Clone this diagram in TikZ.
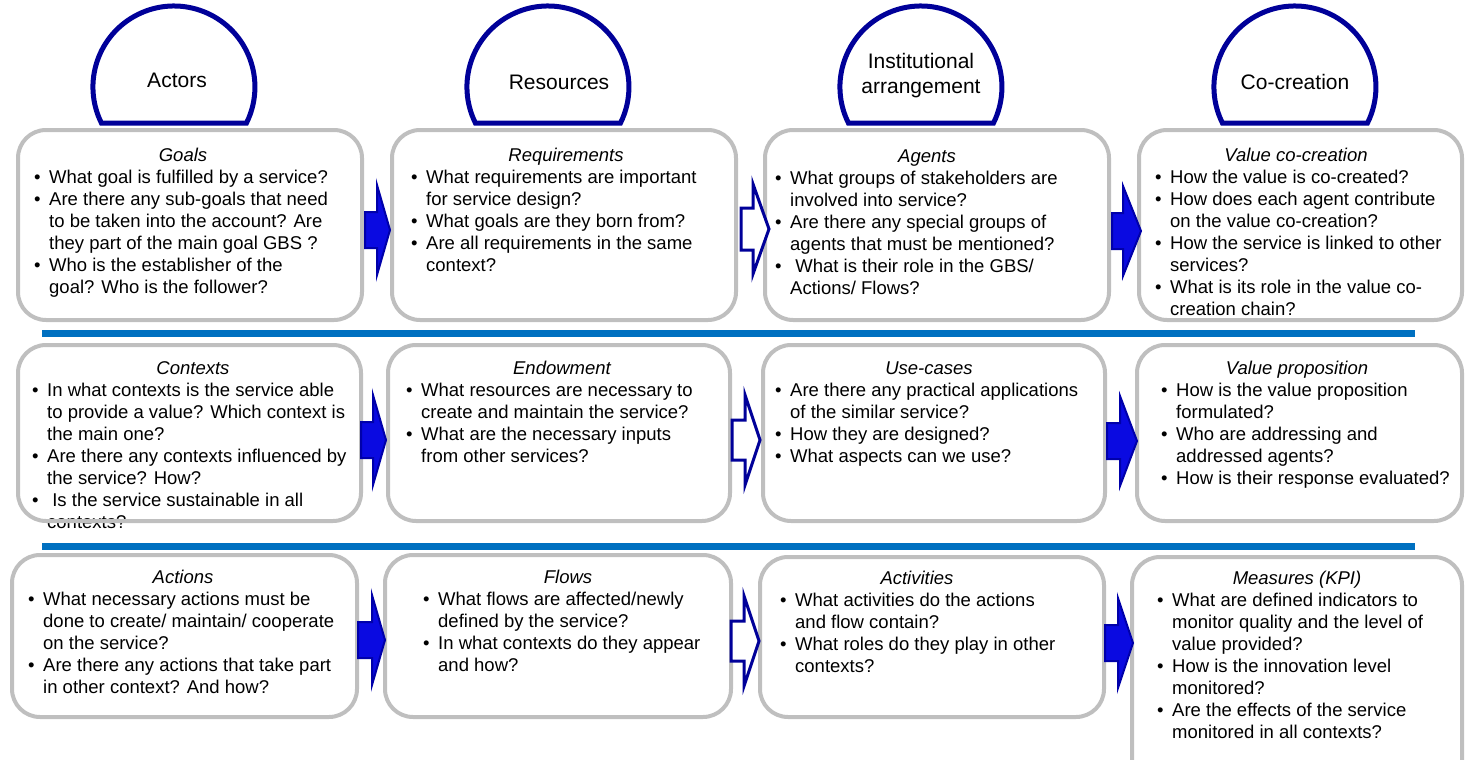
\documentclass[tikz,border=0pt]{standalone}
\usepackage{fontspec}
\setmainfont{Liberation Sans}
\usetikzlibrary{fit}
\definecolor{boxgray}{RGB}{191,191,191}
\definecolor{sepblue}{RGB}{0,112,192}
\definecolor{navy}{RGB}{0,0,153}
\definecolor{arrfill}{RGB}{10,10,225}
\definecolor{arrdraw}{RGB}{0,0,170}
\newcommand{\bu}{\strut\makebox[15pt][l]{•}}
\newcommand{\nb}{\strut\hspace*{15pt}}
\newcommand{\blarrow}[7]{%
  \draw[#1] (#2,#5-#6) -- (#3,#5-#6) -- (#3,#5-#7) -- (#4,#5) -- (#3,#5+#7) -- (#3,#5+#6) -- (#2,#5+#6) -- cycle;}
\newcommand{\hdrarc}[2]{%
  \draw[hdr] ({#1-72.6},#2) arc[start angle=153.6, end angle=386.4, radius=81] -- cycle;}
\begin{document}
\begin{tikzpicture}[x=1pt,y=-1pt,
  box/.style={draw=boxgray, line width=4pt, rounded corners=28pt, inner sep=0pt},
  txt/.style={anchor=north west, inner sep=0pt, align=left, font=\fontsize{18.5}{22}\selectfont},
  ttl/.style={anchor=base, inner sep=0pt, font=\fontsize{18.5}{22}\selectfont\itshape},
  hlbl/.style={inner sep=0pt, align=center, font=\fontsize{21}{25}\selectfont},
  hdr/.style={draw=navy, line width=5pt, fill=white},
  sepline/.style={draw=sepblue, line width=7pt},
  fullarr/.style={draw=arrdraw, fill=arrfill, line width=2pt, line join=miter},
  openarr/.style={draw=navy, fill=white, line width=3pt, line join=miter}
]
\useasboundingbox (0,0) rectangle (1465,760);

% ---------- texts ----------
\node[ttl] (tGoals) at (183,161) {Goals};
\node[txt] (bGoals) at (34,167.6) {\bu What goal is fulfilled by a service?\\
\bu Are there any sub-goals that need\\
\nb to be taken into the account? Are\\
\nb they part of the main goal GBS ?\\
\bu Who is the establisher of the\\
\nb goal? Who is the follower?};

\node[ttl] (tReq) at (566,161) {Requirements};
\node[txt] (bReq) at (411,167.6) {\bu What requirements are important\\
\nb for service design?\\
\bu What goals are they born from?\\
\bu Are all requirements in the same\\
\nb context?};

\node[ttl] (tAgents) at (927,162) {Agents};
\node[txt] (bAgents) at (775,168.6) {\bu What groups of stakeholders are\\
\nb involved into service?\\
\bu Are there any special groups of\\
\nb agents that must be mentioned?\\
\bu\ What is their role in the GBS/\\
\nb Actions/ Flows?};

\node[ttl] (tValCo) at (1296,161) {Value co-creation};
\node[txt] (bValCo) at (1155,167.6) {\bu How the value is co-created?\\
\bu How does each agent contribute\\
\nb on the value co-creation?\\
\bu How the service is linked to other\\
\nb services?\\
\bu What is its role in the value co-\\
\nb creation chain?};

\node[ttl] (tCtx) at (193,374) {Contexts};
\node[txt] (bCtx) at (32,380.6) {\bu In what contexts is the service able\\
\nb to provide a value? Which context is\\
\nb the main one?\\
\bu Are there any contexts influenced by\\
\nb the service? How?\\
\bu\ Is the service sustainable in all\\
\nb contexts?};

\node[ttl] (tEnd) at (562,374) {Endowment};
\node[txt] (bEnd) at (406,380.6) {\bu What resources are necessary to\\
\nb create and maintain the service?\\
\bu What are the necessary inputs\\
\nb from other services?};

\node[ttl] (tUse) at (929,374) {Use-cases};
\node[txt] (bUse) at (775,380.6) {\bu Are there any practical applications\\
\nb of the similar service?\\
\bu How they are designed?\\
\bu What aspects can we use?};

\node[ttl] (tVP) at (1297,374) {Value proposition};
\node[txt] (bVP) at (1161,380.6) {\bu How is the value proposition\\
\nb formulated?\\
\bu Who are addressing and\\
\nb addressed agents?\\
\bu How is their response evaluated?};

\node[ttl] (tAct) at (183,583) {Actions};
\node[txt] (bAct) at (28,589.6) {\bu What necessary actions must be\\
\nb done to create/ maintain/ cooperate\\
\nb on the service?\\
\bu Are there any actions that take part\\
\nb in other context? And how?};

\node[ttl] (tFlows) at (568,583) {Flows};
\node[txt] (bFlows) at (423,589.6) {\bu What flows are affected/newly\\
\nb defined by the service?\\
\bu In what contexts do they appear\\
\nb and how?};

\node[ttl] (tActiv) at (917,584) {Activities};
\node[txt] (bActiv) at (780,590.6) {\bu What activities do the actions\\
\nb and flow contain?\\
\bu What roles do they play in other\\
\nb contexts?};

\node[ttl] (tMeas) at (1297,584) {Measures (KPI)};
\node[txt] (bMeas) at (1157,590.6) {\bu What are defined indicators to\\
\nb monitor quality and the level of\\
\nb value provided?\\
\bu How is the innovation level\\
\nb monitored?\\
\bu Are the effects of the service\\
\nb monitored in all contexts?};

% ---------- boxes ----------
\node[box, fit={(18,130) (362,320)}] (goals) {};
\node[box, fit={(392,130) (736,320)}] (req) {};
\node[box, fit={(765,130) (1109,320)}] (agents) {};
\node[box, fit={(1139,130) (1462,320)}] (valco) {};

\node[box, fit={(18,345) (361,521)}] (ctx) {};
\node[box, fit={(388,345) (730,521)}] (endow) {};
\node[box, fit={(763,345) (1105,521)}] (usec) {};
\node[box, fit={(1137,345) (1462,521)}] (valprop) {};

\node[box, fit={(12,555) (357,717)}] (actions) {};
\node[box, fit={(385,555) (731,717)}] (flows) {};
\node[box, fit={(760,557) (1104,717)}] (activ) {};
\node[box, fit={(1132,557) (1462,790)}] (meas) {};

% ---------- separators ----------
\coordinate (s1a) at (42,333);
\coordinate (s1b) at (1415,333);
\coordinate (s2a) at (42,546);
\coordinate (s2b) at (1415,546);
\draw[sepline] (s1a) -- (s1b);
\draw[sepline] (s2a) -- (s2b);

% ---------- block arrows ----------
\blarrow{fullarr}{365}{377}{390}{230}{18}{45}
\blarrow{openarr}{741}{753}{769}{229}{21}{45}
\blarrow{fullarr}{1112}{1123}{1141}{231}{18}{45}

\blarrow{fullarr}{361}{373}{386}{440}{18}{45}
\blarrow{openarr}{732}{745}{760}{440}{20}{45}
\blarrow{fullarr}{1107}{1120}{1137}{441}{18}{45}

\blarrow{fullarr}{358}{372}{385}{640}{18}{45}
\blarrow{openarr}{731}{744}{759}{641}{20}{45}
\blarrow{fullarr}{1105}{1118}{1133}{643}{18}{45}

% ---------- headers ----------
\hdrarc{174}{123}
\hdrarc{548}{123}
\hdrarc{921}{123}
\hdrarc{1295}{123}
\node[hlbl] (hActors) at (177,80) {Actors};
\node[hlbl] (hRes) at (559,82) {Resources};
\node[hlbl] (hInst) at (921,76) {Institutional\\arrangement};
\node[hlbl] (hCo) at (1295,82) {Co-creation};
\end{tikzpicture}
\end{document}
